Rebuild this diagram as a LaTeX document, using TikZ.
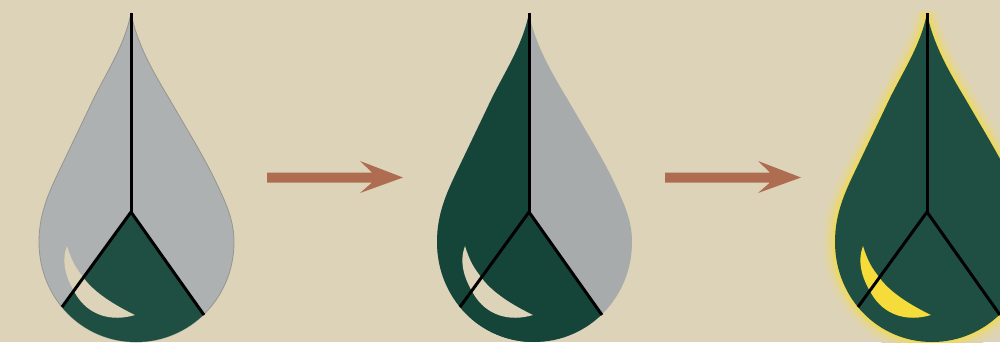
\documentclass[tikz,border=0pt]{standalone}
\definecolor{paper}{HTML}{DDD3B8}
\definecolor{ash}{HTML}{AEB1B2}
\definecolor{ashdark}{HTML}{A8ABAC}
\definecolor{pine}{HTML}{1F4F43}
\definecolor{pinedark}{HTML}{154539}
\definecolor{glow}{HTML}{F5DC3B}
\definecolor{rust}{HTML}{AE6D50}
\begin{document}
\begin{tikzpicture}[x=0.01cm,y=-0.01cm,line join=round,
  spoke/.style={black,line width=0.03cm,line join=miter},
  rim/.style={draw=ash!70!paper!80!black,line width=0.008cm}]
 \def\dropline{(131,13) .. controls (137,45) and (155,75) .. (170,100)
   .. controls (185,126) and (204,157) .. (215,180)
   .. controls (226,203) and (234,220) .. (234,242)
   .. controls (234,298) and (190,342) .. (136,342)
   .. controls (82,342) and (39,298) .. (39,242)
   .. controls (39,212) and (50,190) .. (61,167)
   .. controls (71,146) and (83,121) .. (93,100)
   .. controls (106,73) and (125,45) .. (131,13) -- cycle}
 \def\moonline{(67,246) .. controls (72,262) and (76,268) .. (83,277)
   .. controls (92,290) and (110,303) .. (135,315)
   .. controls (112,322) and (88,316) .. (75,293)
   .. controls (66,278) and (61,262) .. (67,246) -- cycle}
 \def\wedgeline{(131,212) -- (40,337) -- (80,360) -- (190,360) -- (230,350) -- cycle}
 \def\spokes{\draw[spoke] (131,13) -- (131,212);
   \draw[spoke] (62,307) -- (131,212) -- (204,315);}
 \useasboundingbox (0,0) rectangle (1000,342);
 \fill[paper] (0,0) rectangle (1000,342);
 % first drop
 \fill[ash,rim] \dropline;
 \begin{scope}
  \clip \dropline;
  \fill[pine] \wedgeline;
 \end{scope}
 \fill[paper] \moonline;
 \spokes
 % arrows
 \foreach \arrowx in {0,398}
  \fill[rust,shift={(\arrowx,0)}] (267,172.5) -- (372,172.5) -- (360,161) -- (403,177.5)
   -- (360,193) -- (372,182.5) -- (267,182.5) -- cycle;
 % second drop
 \begin{scope}[shift={(398,0)}]
  \fill[ashdark] \dropline;
  \begin{scope}
   \clip \dropline;
   \fill[pinedark] (0,0) rectangle (131,342);
   \fill[pinedark] \wedgeline;
  \end{scope}
  \fill[paper] \moonline;
  \spokes
 \end{scope}
 % third drop, the halo goes from wide and pale to narrow and strong
 \begin{scope}[shift={(796,0)},line join=bevel]
  \foreach \haloR/\haloMix in {26/3,24/5,22/8,20/11,18/15,16/19,14/24,12/30,10/37,8/45,6/55,4/66,2/78}
   \draw[glow!\haloMix!paper,line width=\haloR*0.01cm] \dropline;
  \fill[pine] \dropline;
  \fill[glow] \moonline;
  \spokes
 \end{scope}
\end{tikzpicture}
\end{document}
